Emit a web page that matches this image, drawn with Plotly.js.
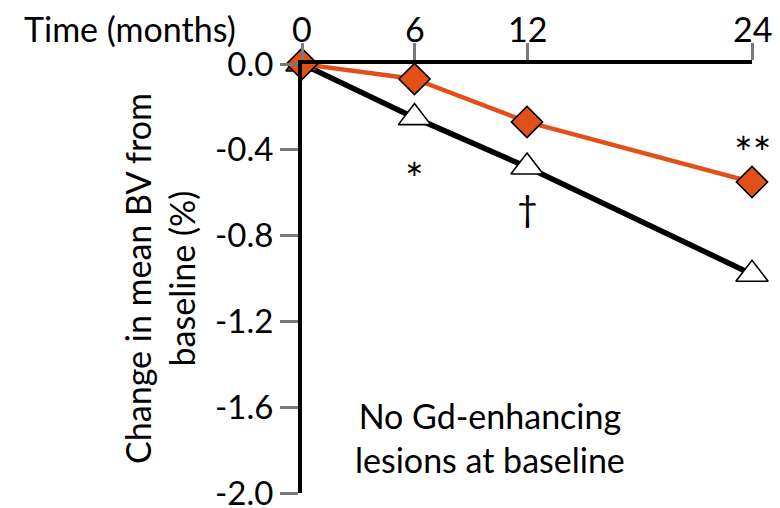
<!DOCTYPE html>
<html>
<head>
<meta charset="utf-8">
<script src="https://cdn.plot.ly/plotly-3.0.1.min.js"></script>
<style>html,body{margin:0;padding:0;background:#fff;}#chart{width:780px;height:508px;}</style>
</head>
<body>
<div id="chart"></div>
<script>
// Data
var months = [0, 6, 12, 24];
var seriesOrange = [0, -0.07, -0.27, -0.55];   // diamonds
var seriesBlack = [0, -0.25, -0.48, -0.98];     // triangles
var xTickVals = [0, 6, 12, 24];
var xTickText = ['0', '6', '12', '24'];
var yTickVals = [0, -0.4, -0.8, -1.2, -1.6, -2.0];
var yTickText = ['0.0', '-0.4', '-0.8', '-1.2', '-1.6', '-2.0'];
var sigMarks = ['*', '\u2020', '**'];
var sigX = [6, 12, 24];

var FONT = 'Lato, "Open Sans", sans-serif';
var FS = 34;

var traces = [
  {
    x: months, y: seriesBlack, type: 'scatter', mode: 'lines+markers',
    cliponaxis: false,
    line: {color: '#000000', width: 5.5},
    marker: {symbol: 'triangle-up', size: 28,
      color: ['#595959', '#ffffff', '#ffffff', '#ffffff'],
      line: {color: '#000000', width: 1.6}},
    hoverinfo: 'x+y', showlegend: false
  },
  {
    x: months, y: seriesOrange, type: 'scatter', mode: 'lines+markers',
    cliponaxis: false,
    line: {color: '#E2501A', width: 4.5},
    marker: {symbol: 'diamond', size: 24, color: '#E2501A',
      line: {color: '#000000', width: 1.6}},
    hoverinfo: 'x+y', showlegend: false
  }
];

var sigY = [-0.53, -0.67, -0.41];
var sigSize = [44, 36, 44];
var annotations = [];
for (var i = 0; i < sigMarks.length; i++) {
  annotations.push({x: sigX[i], y: sigY[i], xref: 'x', yref: 'y', text: sigMarks[i],
    showarrow: false, font: {family: FONT, size: sigSize[i], color: '#000'}});
}
// top tick labels drawn as annotations so they sit at the reference height
for (var j = 0; j < xTickVals.length; j++) {
  annotations.push({x: xTickVals[j], y: 1.083, xref: 'x', yref: 'paper', yanchor: 'middle',
    text: xTickText[j], showarrow: false, font: {family: FONT, size: FS, color: '#000'}});
}
annotations.push({x: 10.0, y: -1.74, xref: 'x', yref: 'y',
  text: 'No Gd-enhancing<br>lesions at baseline', showarrow: false,
  font: {family: FONT, size: FS, color: '#000'}, align: 'center'});
annotations.push({x: -0.142, y: 1.083, xref: 'paper', yref: 'paper', xanchor: 'right', yanchor: 'middle',
  text: 'Time (months)', showarrow: false, font: {family: FONT, size: FS, color: '#000'}});

var layout = {
  width: 780, height: 508,
  margin: {l: 302, r: 28, t: 64, b: 15, pad: 0},
  paper_bgcolor: '#ffffff', plot_bgcolor: '#ffffff',
  font: {family: FONT, size: FS, color: '#000'},
  showlegend: false,
  xaxis: {
    range: [0, 24], side: 'top', tickmode: 'array', tickvals: xTickVals, ticktext: xTickText,
    showticklabels: false,
    showline: true, linecolor: '#000', linewidth: 4, mirror: false,
    ticks: 'outside', ticklen: 17, tickwidth: 3, tickcolor: '#7a7a7a',
    showgrid: false, zeroline: false, fixedrange: true
  },
  yaxis: {
    range: [-2.0, 0], tickmode: 'array', tickvals: yTickVals, ticktext: yTickText,
    showline: true, linecolor: '#000', linewidth: 4,
    ticks: 'outside', ticklen: 18, tickwidth: 3, tickcolor: '#7a7a7a',
    showgrid: false, zeroline: false, fixedrange: true, ticklabeloverflow: 'allow',
    tickfont: {family: FONT, size: 33, color: '#000'},
    title: {text: 'Change in mean BV from<br>baseline (%)', font: {family: FONT, size: FS, color: '#000'}, standoff: 10}
  },
  annotations: annotations
};

Plotly.newPlot('chart', traces, layout, {displayModeBar: false, staticPlot: true});
</script>
</body>
</html>
